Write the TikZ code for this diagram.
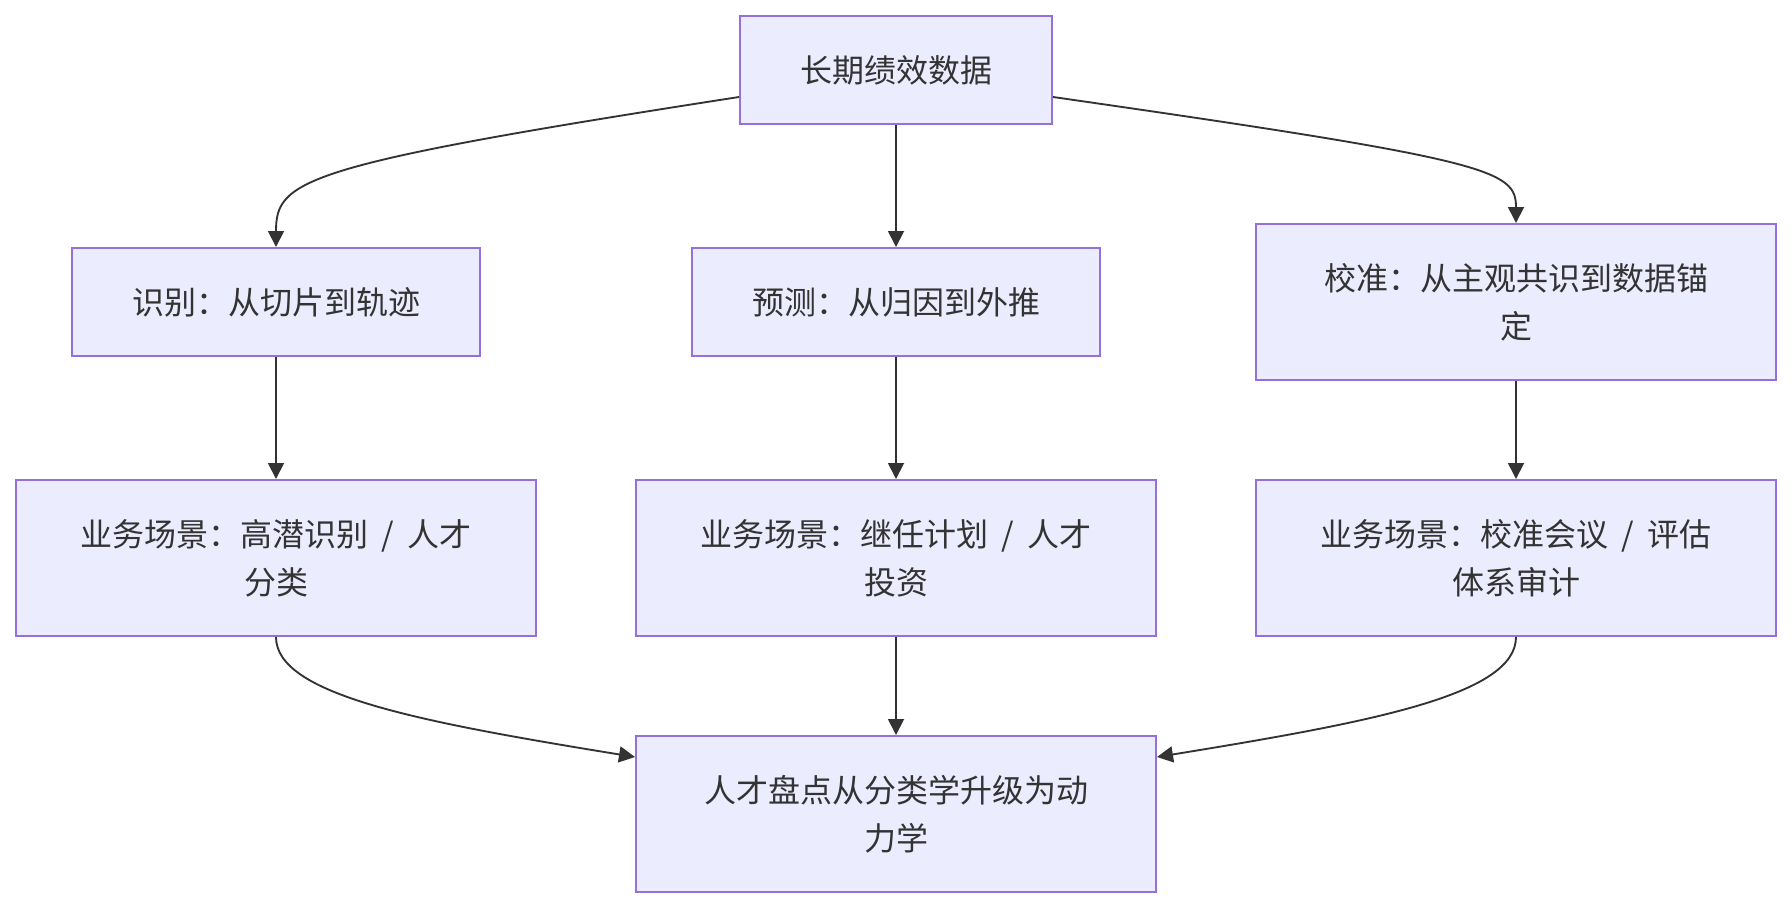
\documentclass[tikz,border=0pt]{standalone}
\usepackage{fontspec}
\setmainfont[WordSpace=1.9]{Noto Sans CJK SC}
\usetikzlibrary{arrows.meta}
\definecolor{boxfill}{HTML}{ECECFF}
\definecolor{boxline}{HTML}{9370DB}
\definecolor{txt}{HTML}{333333}
\begin{document}
\begin{tikzpicture}[x=0.75pt,y=-0.75pt,
  box/.style={draw=boxline, fill=boxfill, line width=1.5pt, text=txt, align=center,
    font=\fontsize{24pt}{36pt}\selectfont, inner sep=0pt},
  smallbox/.style={box, minimum width=306pt, minimum height=81pt},
  bigbox/.style={box, minimum width=390pt, minimum height=117pt},
  conn/.style={draw=txt, line width=1.4pt, -{Triangle[length=12pt,width=12pt]}}]
\useasboundingbox (0,0) rectangle (1792,908);
\node[box, minimum width=234pt, minimum height=81pt] (top) at (896,70) {长期绩效数据};
\node[smallbox] (a1) at (276,302) {识别：从切片到轨迹};
\node[smallbox] (a2) at (896,302) {预测：从归因到外推};
\node[bigbox] (a3) at (1516,302) {校准：从主观共识到数据锚\\定};
\node[bigbox] (b1) at (276,558) {业务场景：高潜识别 / 人才\\分类};
\node[bigbox] (b2) at (896,558) {业务场景：继任计划 / 人才\\投资};
\node[bigbox] (b3) at (1516,558) {业务场景：校准会议 / 评估\\体系审计};
\node[bigbox] (c) at (896,814) {人才盘点从分类学升级为动\\力学};
\draw[conn] ([yshift=-20.25pt]top.west) .. controls (300,165) and (276,180) .. (a1.north);
\draw[conn] (top.south) -- (a2.north);
\draw[conn] ([yshift=-20.25pt]top.east) .. controls (1492,160) and (1516,170) .. (a3.north);
\draw[conn] (a1.south) -- (b1.north);
\draw[conn] (a2.south) -- (b2.north);
\draw[conn] (a3.south) -- (b3.north);
\draw[conn] (b1.south) .. controls (276,695) and (420,722) .. ([yshift=-16.5pt]c.north west);
\draw[conn] (b2.south) -- (c.north);
\draw[conn] (b3.south) .. controls (1516,695) and (1372,722) .. ([yshift=-16.5pt]c.north east);
\end{tikzpicture}
\end{document}
